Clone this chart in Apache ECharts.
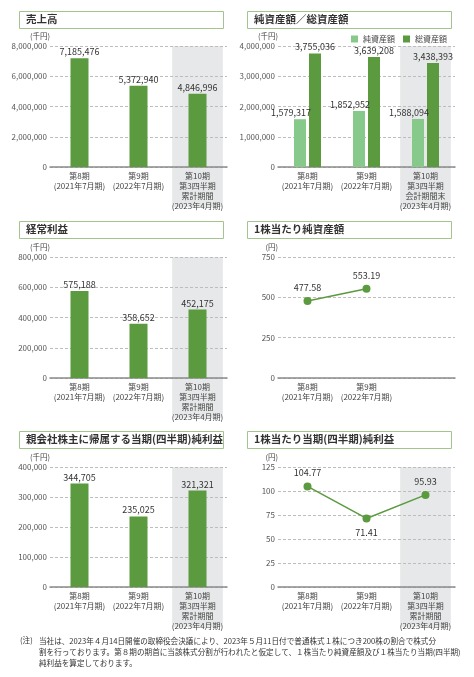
<!DOCTYPE html>
<html>
<head>
<meta charset="utf-8">
<script src="https://cdn.jsdelivr.net/npm/echarts@6/dist/echarts.min.js"></script>
<style>
  html, body { margin: 0; padding: 0; background: #fff; }
  #main { width: 474px; height: 677px; }
</style>
</head>
<body>
<div id="main"></div>
<script>
// 期の区分
const periods = ['第8期\n(2021年7月期)', '第9期\n(2022年7月期)', '第10期\n第3四半期\n累計期間\n(2023年4月期)'];
const periodsAssets = ['第8期\n(2021年7月期)', '第9期\n(2022年7月期)', '第10期\n第3四半期\n会計期間末\n(2023年4月期)'];
const periodsBps = ['第8期\n(2021年7月期)', '第9期\n(2022年7月期)', ''];

// 値
const sales = [7185476, 5372940, 4846996];
const netAssets = [1579317, 1852952, 1588094];
const totalAssets = [3755036, 3639208, 3438393];
const ordinaryIncome = [575188, 358652, 452175];
const bps = [477.58, 553.19, null];
const netIncome = [344705, 235025, 321321];
const eps = [104.77, 71.41, 95.93];

const titles = ['売上高', '純資産額／総資産額', '経常利益', '1株当たり純資産額', '親会社株主に帰属する当期(四半期)純利益', '1株当たり当期(四半期)純利益'];
const units = ['(千円)', '(千円)', '(千円)', '(円)', '(千円)', '(円)'];
const yMax = [8000000, 4000000, 800000, 750, 400000, 125];
const yStep = [2000000, 1000000, 200000, 250, 100000, 25];

const note = ['当社は、2023年４月14日開催の取締役会決議により、2023年５月11日付で普通株式１株につき200株の割合で株式分',
  '割を行っております。第８期の期首に当該株式分割が行われたと仮定して、１株当たり純資産額及び１株当たり当期(四半期)',
  '純利益を算定しております。'];

const FONT = '"Noto Sans CJK JP", "Noto Sans", sans-serif';
const DARK = '#5b9a3e';
const LIGHT = '#86c98a';

const comma = v => Number(v).toLocaleString('en-US');

const chart = echarts.init(document.getElementById('main'));

// パネル配置
const cols = [{ left: 50, box: 19 }, { left: 278, box: 247 }];
const rows = [{ top: 46, h: 121, box: 11 }, { top: 257, h: 121, box: 221 }, { top: 467, h: 120, box: 431 }];

const grids = [], xAxes = [], yAxes = [];
for (let i = 0; i < 6; i++) {
    const c = cols[i % 2], r = rows[Math.floor(i / 2)];
    grids.push({ left: c.left, top: r.top, width: 177, height: r.h });
    const cats = i === 1 ? periodsAssets : (i === 3 ? periodsBps : periods);
    xAxes.push({
        type: 'category', gridIndex: i, data: cats,
        axisLine: { lineStyle: { color: '#8a8a8a', width: 1.5 } },
        axisTick: { show: false },
        axisLabel: { interval: 0, fontSize: 8, lineHeight: 10, color: '#444', margin: 4, fontFamily: FONT }
    });
    yAxes.push({
        type: 'value', gridIndex: i, min: 0, max: yMax[i], interval: yStep[i],
        name: units[i], nameLocation: 'end', nameGap: 6,
        nameTextStyle: { fontSize: 7.5, color: '#444', align: 'right', fontFamily: FONT },
        axisLine: { show: false }, axisTick: { show: false },
        axisLabel: { fontSize: 8, color: '#555', margin: 3, fontFamily: FONT, formatter: v => comma(v) },
        splitLine: { lineStyle: { color: '#bdbdbd', type: [3, 2], width: 1 } }
    });
}

const barLabel = { show: true, position: 'top', distance: 2, fontSize: 9, color: '#333', fontFamily: FONT, formatter: p => comma(p.value) };
const lineLabel = { show: true, position: 'top', distance: 5, fontSize: 9, color: '#333', fontFamily: FONT, formatter: p => p.value.toFixed(2) };

const series = [
    { type: 'bar', xAxisIndex: 0, yAxisIndex: 0, data: sales, barWidth: 18, itemStyle: { color: DARK }, label: barLabel },
    { name: '純資産額', type: 'bar', xAxisIndex: 1, yAxisIndex: 1, data: netAssets, barWidth: 12, barGap: '25%', itemStyle: { color: LIGHT },
      label: Object.assign({}, barLabel, { offset: [-9, 0] }) },
    { name: '総資産額', type: 'bar', xAxisIndex: 1, yAxisIndex: 1, data: totalAssets, barWidth: 12, barGap: '25%', itemStyle: { color: DARK }, label: barLabel },
    { type: 'bar', xAxisIndex: 2, yAxisIndex: 2, data: ordinaryIncome, barWidth: 18, itemStyle: { color: DARK }, label: barLabel },
    { type: 'line', xAxisIndex: 3, yAxisIndex: 3, data: bps, symbol: 'circle', symbolSize: 8,
      itemStyle: { color: DARK }, lineStyle: { color: DARK, width: 1.5 }, label: lineLabel },
    { type: 'bar', xAxisIndex: 4, yAxisIndex: 4, data: netIncome, barWidth: 18, itemStyle: { color: DARK }, label: barLabel },
    { type: 'line', xAxisIndex: 5, yAxisIndex: 5, symbol: 'circle', symbolSize: 8,
      data: eps.map((v, k) => k === 1 ? { value: v, label: { position: 'bottom', distance: 6 } } : v),
      itemStyle: { color: DARK }, lineStyle: { color: DARK, width: 1.5 }, label: lineLabel }
];

chart.setOption({
    animation: false,
    textStyle: { fontFamily: FONT },
    grid: grids, xAxis: xAxes, yAxis: yAxes,
    legend: {
        data: ['純資産額', '総資産額'], right: 22, top: 30, icon: 'rect', itemWidth: 7, itemHeight: 7, itemGap: 8,
        textStyle: { fontSize: 8, color: '#444', fontFamily: FONT }
    },
    series
});

// 見出し枠・第10期の網掛け・注記
const graphic = [];
for (let i = 0; i < 6; i++) {
    const c = cols[i % 2], r = rows[Math.floor(i / 2)];
    graphic.push({
        type: 'rect', left: c.box, top: r.box, z: 10,
        shape: { width: 204, height: 17 },
        style: { fill: '#fff', stroke: '#a3c48e', lineWidth: 1 }
    });
    graphic.push({
        type: 'text', left: c.box + 7, top: r.box + 3, z: 11,
        style: { text: titles[i], font: 'bold 10.5px ' + FONT, fill: '#333' }
    });
    if (i === 3) continue;
    const cats = xAxes[i].data;
    const x0 = chart.convertToPixel({ xAxisIndex: i }, cats[1]);
    const x1 = chart.convertToPixel({ xAxisIndex: i }, cats[2]);
    const w = (x1 - x0) * 0.86;
    const yTop = chart.convertToPixel({ yAxisIndex: i }, yMax[i]);
    const yBottom = r.top + r.h + 40;
    graphic.push({
        type: 'rect', left: x1 - w / 2, top: yTop, z: -1, silent: true,
        shape: { width: w, height: yBottom - yTop },
        style: { fill: '#e7e8e9' }
    });
}
graphic.push({ type: 'text', left: 20, top: 636, style: { text: '(注)', font: '7.6px ' + FONT, fill: '#333' } });
graphic.push({ type: 'text', left: 39, top: 636, style: { text: note.join('\n'), font: '7.6px ' + FONT, fill: '#333', lineHeight: 11 } });

chart.setOption({ graphic });
</script>
</body>
</html>
